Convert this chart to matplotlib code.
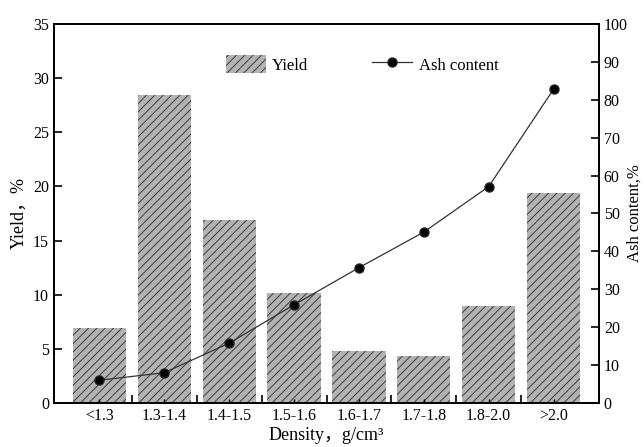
import numpy as np
import matplotlib
matplotlib.use("Agg")
import matplotlib.pyplot as plt

# dati
categorie = ["<1.3", "1.3-1.4", "1.4-1.5", "1.5-1.6", "1.6-1.7", "1.7-1.8", "1.8-2.0", ">2.0"]
resa = [6.9, 28.4, 16.9, 10.2, 4.8, 4.3, 9.0, 19.4]
ceneri = [6.0, 8.0, 15.8, 25.9, 35.7, 45.1, 57.1, 82.8]

plt.rcParams["font.family"] = ["Liberation Serif", "Noto Sans CJK SC"]
plt.rcParams["hatch.linewidth"] = 0.7
plt.rcParams["font.size"] = 11.5

fig = plt.figure(figsize=(6.44, 4.47), dpi=100)
ax = fig.add_axes([54 / 644, 44 / 447, 545 / 644, 379 / 447])

x = np.arange(len(categorie))
barre = ax.bar(x, resa, width=0.82, color="#b2b2b2", edgecolor="#3c3c3c",
               hatch="////", linewidth=0, label="Yield")

ax.set_xlim(-0.7, 7.7)
ax.set_ylim(0, 35)
ax.set_yticks(range(0, 36, 5))
ax.set_xticks(x)
ax.set_xticklabels(categorie)
ax.set_xticks(x[:-1] + 0.5, minor=True)
ax.tick_params(axis="x", which="major", direction="in", length=3, width=1)
ax.tick_params(axis="x", which="minor", direction="in", length=6, width=1.2)
ax.tick_params(axis="y", direction="in", length=6, width=1.2)
ax.set_xlabel("Density，g/cm³", fontsize=13, labelpad=2)
ax.set_ylabel("Yield，%", fontsize=13, labelpad=4)

ax2 = ax.twinx()
linea, = ax2.plot(x, ceneri, color="#333333", linewidth=0.9, marker="o",
                  markersize=6.5, markerfacecolor="black", markeredgecolor="#222222",
                  label="Ash content")
ax2.set_ylim(0, 100)
ax2.set_yticks(range(0, 101, 10))
ax2.tick_params(axis="y", direction="in", length=6, width=1.2)
ax2.set_ylabel("Ash content,%", fontsize=12, labelpad=-1)

for a in (ax, ax2):
    for s in a.spines.values():
        s.set_linewidth(1.3)

ax.legend([barre, linea], ["Yield", "Ash content"], ncol=2, frameon=False,
          loc="center", bbox_to_anchor=(0.565, 0.894), columnspacing=3.8,
          handlelength=2.4, handleheight=1.3, handletextpad=0.4, fontsize=12)

fig.savefig("out.png", dpi=100)
